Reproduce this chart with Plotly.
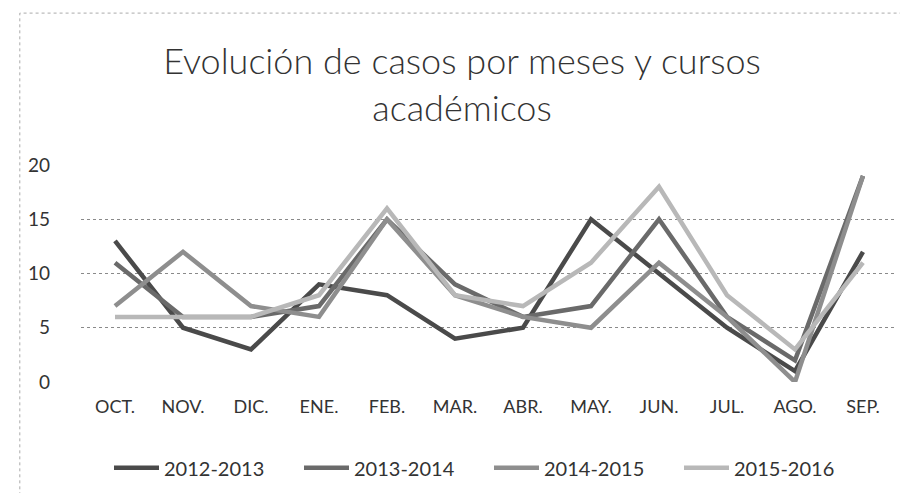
import plotly.graph_objects as go

months = ["OCT.", "NOV.", "DIC.", "ENE.", "FEB.", "MAR.", "ABR.", "MAY.", "JUN.", "JUL.", "AGO.", "SEP."]

s_2012_2013 = [13, 5, 3, 9, 8, 4, 5, 15, 10, 5, 1, 12]
s_2013_2014 = [11, 6, 6, 7, 15, 9, 6, 7, 15, 6, 2, 19]
s_2014_2015 = [7, 12, 7, 6, 15, 8, 6, 5, 11, 6, 0, 19]
s_2015_2016 = [6, 6, 6, 8, 16, 8, 7, 11, 18, 8, 3, 11]

series_names = ["2012-2013", "2013-2014", "2014-2015", "2015-2016"]
series_values = [s_2012_2013, s_2013_2014, s_2014_2015, s_2015_2016]
series_colors = ["#4a4a4a", "#6a6a6a", "#8e8e8e", "#b8b8b8"]

FONT = "Lato, 'Open Sans', sans-serif"

fig = go.Figure()
for name, vals, col in zip(series_names, series_values, series_colors):
    fig.add_trace(go.Scatter(
        x=months, y=vals, name=name, mode="lines",
        line=dict(color=col, width=4.5),
    ))

fig.update_layout(
    width=908, height=493,
    margin=dict(l=73, r=19, t=157, b=119),
    paper_bgcolor="white", plot_bgcolor="white",
    font=dict(family=FONT, color="#333333"),
    title=dict(
        text="Evolución de casos por meses y cursos<br>académicos",
        font=dict(size=36, color="#333333", family=FONT, weight=300),
        x=0.5, xanchor="center", y=0.866, yanchor="middle",
    ),
    showlegend=True,
    legend=dict(
        orientation="h", x=0.5, xanchor="center", y=-0.395, yanchor="middle",
        font=dict(size=20, color="#333333"),
        entrywidth=130, itemwidth=45,
    ),
    xaxis=dict(
        type="category", range=[-0.5, 11.5],
        showgrid=False, showline=False, zeroline=False,
        ticks="", tickfont=dict(size=18, color="#333333"),
        ticklabelstandoff=12,
    ),
    yaxis=dict(
        range=[0, 20], dtick=5, tick0=0,
        showgrid=True, gridcolor="#8a8a8a", griddash="dot", gridwidth=1,
        zeroline=False, showline=False, ticks="",
        tickfont=dict(size=19, color="#333333"),
        ticklabelstandoff=30,
    ),
    shapes=[dict(type="rect", xref="paper", yref="paper",
                 x0=-0.075, x1=1.02, y0=-0.52, y1=1.7,
                 line=dict(color="#aaaaaa", width=1, dash="dot"))],
)

fig.write_html("out.html")
